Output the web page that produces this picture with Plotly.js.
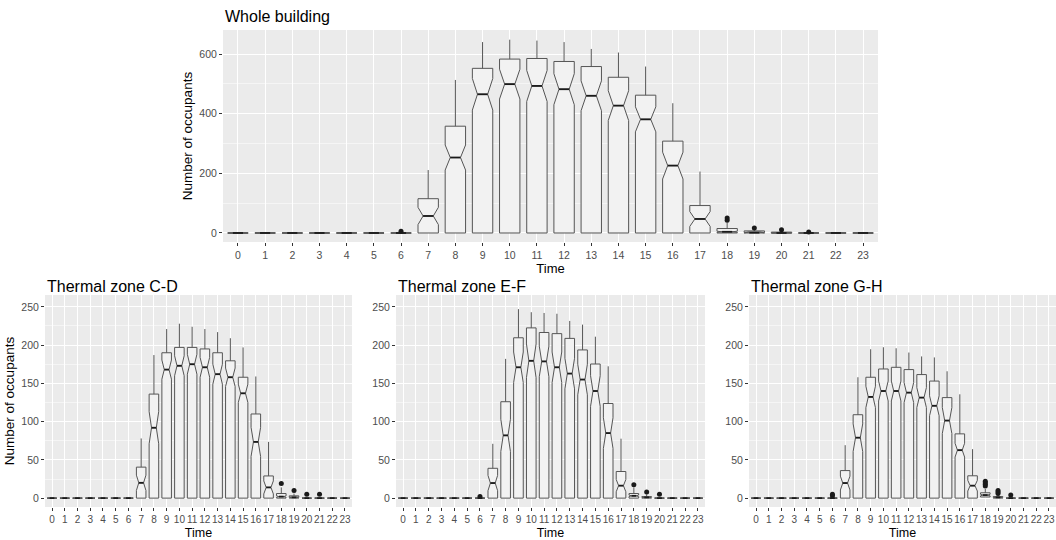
<!DOCTYPE html>
<html><head><meta charset="utf-8">
<script src="https://cdn.plot.ly/plotly-3.0.1.min.js"></script>
<style>html,body{margin:0;padding:0;background:#fff}</style>
</head><body>
<div id="chart" style="width:1056px;height:540px"></div>
<script>
// ---- data ----
const hours = [0,1,2,3,4,5,6,7,8,9,10,11,12,13,14,15,16,17,18,19,20,21,22,23];
const hourLabels = hours.map(String);

// Whole building
const wbQ1     = [0,0,0,0,0,0,0,0,0,0,0,0,0,0,0,0,0,0,0,0,0,0,0,0];
const wbMedian = [0,0,0,0,0,0,0,57,253,465,499,493,482,460,427,381,226,47,4,1,0,0,0,0];
const wbQ3     = [0,0,0,0,0,0,0,115,358,552,583,585,575,558,522,462,308,92,15,7,3,0,0,0];
const wbUpper  = [0,0,0,0,0,0,0,211,513,640,648,645,640,617,605,558,435,206,35,12,7,0,0,0];
const wbNotch  = [0,0,0,0,0,0,0,29,42,53,50,52,52,50,50,42,45,25,2,1,0,0,0,0];
const wbOutX   = [6,18,18,19,20,21];
const wbOutY   = [6,43,50,17,11,3];

// Thermal zone C-D
const cdQ1     = [0,0,0,0,0,0,0,0,0,0,0,0,0,0,0,0,0,0,0,0,0,0,0,0];
const cdMedian = [0,0,0,0,0,0,0,20,92,168,173,175,171,162,158,137,73.5,14,2,1,0,0,0,0];
const cdQ3     = [0,0,0,0,0,0,0,40.5,136,190,197,197,195,190,179.5,158,110,29,6,3,0,0,0,0];
const cdUpper  = [0,0,0,0,0,0,0,78,187,221,228,224,221,217,209,197,159,73.5,14,6,0,0,0,0];
const cdNotch  = [0,0,0,0,0,0,0,10,21,12.5,13,13,13,13,12,12,19,8.5,1,0.5,0,0,0,0];
const cdOutX   = [18,19,20,21];
const cdOutY   = [19,10,5,5];

// Thermal zone E-F
const efQ1     = [0,0,0,0,0,0,0,0,0,0,0,0,0,0,0,0,0,0,0,0,0,0,0,0];
const efMedian = [0,0,0,0,0,0,0,19.7,82,171,179.5,178.7,171,162.8,155,140,85,16.3,3,1,0,0,0,0];
const efQ3     = [0,0,0,0,0,0,0,39,126,209.6,222.5,216.5,215,208.8,193.7,175.3,123.7,34.8,6,2,0,0,0,0];
const efUpper  = [0,0,0,0,0,0,0,71,182,247,243,242,241,231.6,226.8,211,172.3,77.7,14,5,0,0,0,0];
const efNotch  = [0,0,0,0,0,0,0,10,21,20,22,20,20,20,20,20,20,8,1,0.5,0,0,0,0];
const efOutX   = [6,18,19,20];
const efOutY   = [2,17.6,8,5];

// Thermal zone G-H
const ghQ1     = [0,0,0,0,0,0,0,0,0,0,0,0,0,0,0,0,0,0,1.5,0,0,0,0,0];
const ghMedian = [0,0,0,0,0,0,0,19.7,79,132.3,140,140,137.9,131.4,120.7,101.4,62.7,16.3,4,1,0,0,0,0];
const ghQ3     = [0,0,0,0,0,0,0,36,109,158,168.8,171,168,161.5,153,131.4,84,29.2,7,2,0,0,0,0];
const ghUpper  = [0,0,0,0,0,0,0,69.2,158,194.6,197.2,195.9,190.3,185.2,183.9,165.8,135.7,64,12,4,0,0,0,0];
const ghNotch  = [0,0,0,0,0,0,0,9,18,14,13,13,13,13,13,17,9,7,1,0.5,0,0,0,0];
const ghOutX   = [6,6,18,18,18,18,19,19,19,20];
const ghOutY   = [3,5,16,18,20,22,6,8,10,4];

const titles = ['Whole building','Thermal zone C-D','Thermal zone E-F','Thermal zone G-H'];

// ---- layout (positions & styles) ----
const W = 1056, H = 540;
const panels = [
  {title: titles[0], xa:'x',  ya:'y',  px:[223,878],  py:[30,242],  yr:[-30.2,680.5], dt:200, q1:wbQ1, med:wbMedian, q3:wbQ3, up:wbUpper, nt:wbNotch, ox:wbOutX, oy:wbOutY, ytitle:true, ty:17},
  {title: titles[1], xa:'x2', ya:'y2', px:[45,352],   py:[295,507], yr:[-11.6,265.5], dt:50,  q1:cdQ1, med:cdMedian, q3:cdQ3, up:cdUpper, nt:cdNotch, ox:cdOutX, oy:cdOutY, ytitle:true, ty:286},
  {title: titles[2], xa:'x3', ya:'y3', px:[396,705],  py:[295,507], yr:[-11.6,265.5], dt:50,  q1:efQ1, med:efMedian, q3:efQ3, up:efUpper, nt:efNotch, ox:efOutX, oy:efOutY, ytitle:false, ty:286},
  {title: titles[3], xa:'x4', ya:'y4', px:[749,1056], py:[295,507], yr:[-11.6,265.5], dt:50,  q1:ghQ1, med:ghMedian, q3:ghQ3, up:ghUpper, nt:ghNotch, ox:ghOutX, oy:ghOutY, ytitle:false, ty:286}
];

const FONT = 'Liberation Sans, Arial, sans-serif';
const BOXW = 0.75;
const traces = [];
const shapes = [];
const annotations = [];
const layout = {
  width: W, height: H,
  margin: {l:0, r:0, t:0, b:0},
  paper_bgcolor: '#ffffff',
  plot_bgcolor: '#EBEBEB',
  showlegend: false,
  font: {family: FONT, color: '#4d4d4d'},
  shapes: shapes,
  annotations: annotations
};

panels.forEach((p, i) => {
  const sfx = i === 0 ? '' : String(i + 1);
  traces.push({
    type: 'box', xaxis: p.xa, yaxis: p.ya,
    x: hours, q1: p.q1, median: p.med, q3: p.q3,
    lowerfence: p.q1, upperfence: p.up,
    notched: true, notchspan: p.nt, notchwidth: 0.25,
    width: BOXW, whiskerwidth: 0, boxpoints: false,
    fillcolor: '#F2F2F2', line: {color: '#555555', width: 1},
    hoverinfo: 'skip'
  });
  traces.push({
    type: 'scatter', mode: 'markers', xaxis: p.xa, yaxis: p.ya,
    x: p.ox, y: p.oy,
    marker: {size: 5, color: '#1a1a1a'}, hoverinfo: 'skip'
  });
  // thicker median lines (as in ggplot)
  hours.forEach((h, k) => {
    shapes.push({type:'line', xref:p.xa, yref:p.ya, layer:'above',
      x0: h - BOXW/4, x1: h + BOXW/4, y0: p.med[k], y1: p.med[k],
      line:{color:'#1a1a1a', width:1.8}});
  });
  layout['xaxis' + sfx] = {
    domain: [p.px[0]/W, p.px[1]/W], anchor: p.ya,
    range: [-0.55, 23.55], tickmode: 'array', tickvals: hours, ticktext: hourLabels,
    tickangle: 0,
    showgrid: true, gridcolor: '#ffffff', gridwidth: 1, zeroline: false, showline: false,
    ticks: 'outside', ticklen: 3, tickwidth: 1, tickcolor: '#333333',
    tickfont: {family: FONT, size: i === 0 ? 10.5 : 10, color: '#4d4d4d'},
    title: {text: 'Time', font: {family: FONT, size: i === 0 ? 13 : 12.5, color: '#000'}, standoff: i === 0 ? 1 : 6},
    automargin: false, fixedrange: true
  };
  layout['yaxis' + sfx] = {
    domain: [1 - p.py[1]/H, 1 - p.py[0]/H], anchor: p.xa,
    range: p.yr, tickmode: 'linear', tick0: 0, dtick: p.dt,
    showgrid: true, gridcolor: '#ffffff', gridwidth: 1, zeroline: false, showline: false,
    minor: {dtick: p.dt/2, tick0: 0, showgrid: true, gridcolor: '#ffffff', gridwidth: 0.5, ticks: ''},
    ticks: 'outside', ticklen: 3, tickwidth: 1, tickcolor: '#333333',
    tickfont: {family: FONT, size: 10.5, color: '#4d4d4d'},
    title: p.ytitle ? {text: 'Number of occupants', font: {family: FONT, size: 13.5, color: '#000'}, standoff: 3} : {text: ''},
    automargin: false, fixedrange: true
  };
  annotations.push({
    text: p.title, xref: 'paper', yref: 'paper',
    x: p.px[0]/W, y: 1 - p.ty/H, xanchor: 'left', yanchor: 'middle',
    showarrow: false, font: {family: FONT, size: 16, color: '#000'}
  });
});

Plotly.newPlot('chart', traces, layout, {staticPlot: true, displayModeBar: false});
</script>
</body></html>
